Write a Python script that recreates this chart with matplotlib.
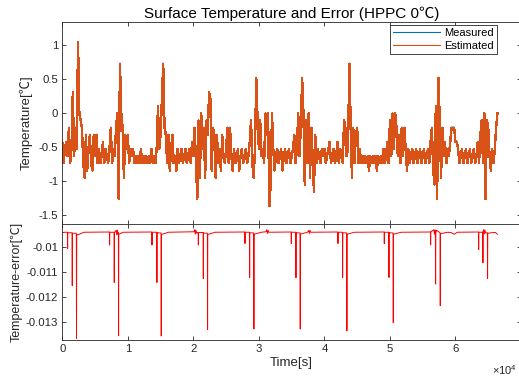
import numpy as np
import matplotlib
matplotlib.use('Agg')
import matplotlib.pyplot as plt

# sensor reads in steps of ~0.105 degC, one sample every 200 s
sensor_step = 0.105
sample_period = 200

measured_counts = [
    -4, -7, -5, -4, -6, -2, -7, -5, 3, -6, -2, -5, 10, 0, -1, -2, -7, -9, -3, -8, -5, -3, -7, -8, -3,
    -6, -3, -7, -5, -7, -6, -4, -7, -5, -6, -7, -5, -2, -7, -5, -6, -2, 0, -12, 7, 0, -2, -9, -3, -5,
    -3, -7, -5, -6, -5, -7, -6, -7, -6, -7, -5, -7, -6, -7, -6, -7, -6, -7, -5, -7, -6, -7, -5, 1, -5,
    -3, 2, 7, -2, -3, -7, -3, -8, -5, -3, -7, -6, -8, -5, -7, -6, -5, -7, -6, -5, -7, -6, -5, -7, -4,
    -6, -2, -7, -12, -1, -9, 0, -5, -2, -9, -1, -3, 3, 2, -8, -2, -3, -9, -3, -7, -5, -8, -3, -6, -7,
    -5, -2, -7, -2, -6, -8, -5, -7, -6, -5, -8, -6, -5, -7, -6, -5, -7, -6, -4, -1, -7, -9, -5, 5, -1,
    -5, -1, -6, -5, -7, 0, -3, 0, -13, -10, 0, -5, -8, -6, -5, -7, -6, -5, -8, -6, -5, -7, -6, -5, -7,
    -6, -5, -3, -7, -5, 0, -6, -2, 5, 0, -10, -1, -7, 0, -9, -2, -6, -11, -3, -7, -5, -6, -7, -5, -6,
    -5, -7, -6, -5, -4, -7, -6, -5, -7, -6, -4, -7, -5, -6, -7, -1, -2, -6, -5, 7, -1, -9, -2, -7, -3,
    -2, -7, -5, -7, -6, -7, -6, -7, -6, -8, -6, -7, -6, -7, -6, -8, -6, -7, -6, -7, -5, -7, -6, -4, -7,
    -1, -6, 0, -5, 0, -2, -6, -3, -7, -2, -6, -2, -5, -8, -5, -7, -6, -5, -7, -6, -5, -7, -6, -5, -7,
    -6, -5, -7, -6, -5, -7, -4, -2, -8, -10, 1, -12, 5, -1, -9, -2, -6, -4, -7, -5, -6, -4, -2, -2, -2,
    -4, -4, -5, -7, -6, -5, -7, -6, -5, -7, -6, -5, -7, -6, -5, -7, -6, -4, -7, -3, -1, -7, 0, -12, -1,
    -2, -6, -8, -5, -7, -5, -2, 0,
]

# estimation error (estimated - measured), keypoints in s / degC
error_time = [
    0, 400, 780, 810, 840, 1490, 1520, 1550, 2140, 2170, 2200, 2600, 3300,
    6000, 7190, 7220, 7250, 7900, 7930, 7960, 8200, 8300, 8400, 8500, 8560, 8590, 8620, 8800, 9300,
    13000, 13660, 13690, 13720, 14410, 14440, 14470, 15070, 15100, 15130, 15500, 16200,
    20100, 20200, 20300, 20400, 20500, 20730, 20760, 20790, 21490, 21520, 21550, 22140, 22170, 22200, 22600, 23300,
    27000, 27850, 27880, 27910, 28560, 28590, 28620, 29210, 29240, 29270, 29700, 30400,
    31100, 31200, 31300, 31400, 31500,
    34000, 34920, 34950, 34980, 35630, 35660, 35690, 36280, 36310, 36340, 36700, 37400, 37600, 37700, 37800, 37900,
    41000, 42040, 42070, 42100, 42750, 42780, 42810, 43400, 43430, 43460, 43900, 44600,
    48000, 49110, 49140, 49170, 49820, 49850, 49880, 50480, 50510, 50540, 51000, 51700,
    55000, 56180, 56210, 56240, 56700, 56800, 56900, 56940, 56970, 57000, 57100, 57650, 57680, 57710,
    58100, 58800, 59300, 59800, 60300,
    63000, 63510, 63540, 63570, 64160, 64190, 64220, 64300, 64400, 64500, 64600, 64870, 64900, 64930,
    65500, 66100, 66400,
]
error_value = [
    -0.00944, -0.00942, -0.00942, -0.01007, -0.00944, -0.00944, -0.01156, -0.00946, -0.00946, -0.01367, -0.00952, -0.00950, -0.00942,
    -0.00941, -0.00941, -0.00993, -0.00942, -0.00942, -0.01143, -0.00944, -0.00934, -0.00952, -0.00933, -0.00950, -0.00944, -0.01356, -0.00950, -0.00948, -0.00942,
    -0.00941, -0.00941, -0.00993, -0.00942, -0.00942, -0.01143, -0.00944, -0.00945, -0.01357, -0.00951, -0.00948, -0.00942,
    -0.00940, -0.00932, -0.00949, -0.00933, -0.00946, -0.00942, -0.00993, -0.00943, -0.00943, -0.01127, -0.00945, -0.00946, -0.01331, -0.00951, -0.00948, -0.00942,
    -0.00941, -0.00941, -0.00987, -0.00942, -0.00942, -0.01123, -0.00944, -0.00945, -0.01329, -0.00950, -0.00947, -0.00942,
    -0.00940, -0.00932, -0.00947, -0.00934, -0.00942,
    -0.00941, -0.00941, -0.00987, -0.00942, -0.00942, -0.01124, -0.00944, -0.00945, -0.01329, -0.00950, -0.00947, -0.00942, -0.00935, -0.00947, -0.00934, -0.00942,
    -0.00941, -0.00941, -0.00987, -0.00942, -0.00942, -0.01124, -0.00944, -0.00945, -0.01336, -0.00950, -0.00947, -0.00942,
    -0.00941, -0.00941, -0.00987, -0.00942, -0.00942, -0.01123, -0.00944, -0.00945, -0.01304, -0.00950, -0.00947, -0.00942,
    -0.00941, -0.00941, -0.00993, -0.00940, -0.00932, -0.00950, -0.00933, -0.00944, -0.01149, -0.00946, -0.00934, -0.00944, -0.01236, -0.00948,
    -0.00946, -0.00942, -0.00943, -0.00950, -0.00942,
    -0.00941, -0.00941, -0.01011, -0.00942, -0.00942, -0.01064, -0.00940, -0.00932, -0.00948, -0.00933, -0.00945, -0.00944, -0.01127, -0.00946,
    -0.00944, -0.00943, -0.00950,
]
estimate_bias = -0.0094  # level of the error trace between pulses

temp_ticks = [-1.5, -1, -0.5, 0, 0.5, 1]
temp_ticklabels = ['-1.5', '-1', '-0.5', '0', '0.5', '1']
err_ticks = [-0.013, -0.012, -0.011, -0.01]
err_ticklabels = ['-0.013', '-0.012', '-0.011', '-0.01']
time_ticks = [0, 1e4, 2e4, 3e4, 4e4, 5e4, 6e4]
time_ticklabels = ['0', '1', '2', '3', '4', '5', '6']

temp_time = np.arange(len(measured_counts)) * sample_period
temp_measured = np.array(measured_counts) * sensor_step
temp_estimated = temp_measured + estimate_bias

plt.rcParams['font.family'] = ['Liberation Sans', 'Noto Sans CJK SC', 'DejaVu Sans']
plt.rcParams['mathtext.default'] = 'regular'
dark = '#262626'

fig = plt.figure(figsize=(5.19, 3.79), dpi=100)
W, H = 519, 379
left = 62.3 / W
width = (521 - 62.3) / W
ax1 = fig.add_axes([left, 1 - 224 / H, width, (224 - 22) / H])
ax2 = fig.add_axes([left, 1 - 340 / H, width, (340 - 224) / H])

ax1.plot(temp_time, temp_measured, color='#0072BD', lw=0.8, label='Measured')
ax1.plot(temp_time, temp_estimated, color='#D95319', lw=1.0, antialiased=False,
         label='Estimated')
ax2.plot(error_time, error_value, color='#FF0000', lw=0.7)

ax1.set_ylim(-1.64, 1.34)
ax2.set_ylim(-0.01373, -0.00909)
for ax in (ax1, ax2):
    ax.set_xlim(0, 7e4)
    ax.set_xticks(time_ticks)
    ax.tick_params(direction='in', length=3, width=0.6, colors=dark,
                   labelsize=8.2, top=True, right=True, pad=3)
    for s in ax.spines.values():
        s.set_color(dark)
        s.set_linewidth(0.6)

ax1.set_xticklabels([])
ax1.set_yticks(temp_ticks)
ax1.set_yticklabels(temp_ticklabels)
ax2.set_xticklabels(time_ticklabels)
ax2.set_yticks(err_ticks)
ax2.set_yticklabels(err_ticklabels)

ax1.set_ylabel('Temperature[℃]', fontsize=9.5, color=dark, labelpad=4)
ax2.set_ylabel('Temperature-error[℃]', fontsize=9, color=dark, labelpad=2)
ax2.set_xlabel('Time[s]', fontsize=9.5, color=dark, labelpad=2)
ax1.set_title('Surface Temperature and Error (HPPC 0℃)', fontsize=11, color='black', pad=3)

fig.text(492 / W, 1 - 370 / H, '×10$^4$', fontsize=8, color=dark, ha='left', va='center')

leg = ax1.legend(loc='upper right', bbox_to_anchor=(497 / W, 1 - 25 / H),
                 bbox_transform=fig.transFigure, borderaxespad=0, fontsize=8,
                 handlelength=4.2, handletextpad=0.4, borderpad=0.3,
                 labelspacing=0.2, fancybox=False, framealpha=1)
leg.get_frame().set_edgecolor(dark)
leg.get_frame().set_linewidth(0.6)
for line in leg.get_lines():
    line.set_linewidth(0.8)
    line.set_antialiased(True)

fig.savefig('out.png', dpi=100)
